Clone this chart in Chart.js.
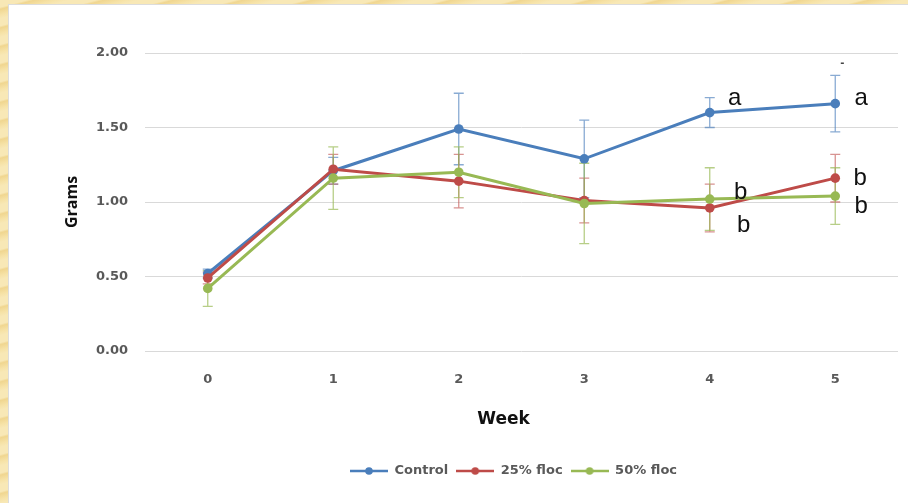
<!DOCTYPE html>
<html>
<head>
<meta charset="utf-8">
<script src="https://cdn.jsdelivr.net/npm/chart.js@4/dist/chart.umd.min.js"></script>
<style>
  html, body { margin: 0; padding: 0; }
  body {
    width: 908px; height: 503px; overflow: hidden; position: relative;
    background: repeating-linear-gradient(165deg, #f8e8b6 0px, #f8e8b6 7px, #f0d690 9px, #f6e2a6 14px, #f8e8b6 18px);
  }
  #panel {
    position: absolute; left: 8px; top: 4px; right: 0; bottom: 0;
    background: #ffffff;
    border-left: 1px solid #dcdcdc; border-top: 1px solid #dcdcdc;
  }
  #wrap { position: absolute; left: 0; top: 0; width: 908px; height: 503px; }
</style>
</head>
<body>
<div id="panel"></div>
<div id="wrap"><canvas id="chart" width="908" height="503"></canvas></div>
<script>
// Weekly mean weight (grams) with standard error, per treatment
const weeks = ['0', '1', '2', '3', '4', '5'];
const seriesNames = ['Control', '25% floc', '50% floc'];
const controlMean = [0.52, 1.21, 1.49, 1.29, 1.60, 1.66];
const controlErr  = [0.03, 0.09, 0.24, 0.26, 0.10, 0.19];
const floc25Mean  = [0.49, 1.22, 1.14, 1.01, 0.96, 1.16];
const floc25Err   = [0.04, 0.10, 0.18, 0.15, 0.16, 0.16];
const floc50Mean  = [0.42, 1.16, 1.20, 0.99, 1.02, 1.04];
const floc50Err   = [0.12, 0.21, 0.17, 0.27, 0.21, 0.19];
const yTicks = [0, 0.5, 1.0, 1.5, 2.0];
const xTitle = 'Week';
const yTitle = 'Grams';

// significance letters: week, anchor (grams, text baseline)
const sigLetters = ['a', 'a', 'b', 'b', 'b', 'b'];
const sigWeeks   = [4, 5, 5, 5, 4, 4];
const sigGrams   = [1.651, 1.651, 1.114, 0.926, 1.020, 0.799];

const lineColors = ['#4a7ebb', '#be4b48', '#98b954'];
const barColors  = ['rgba(74,126,187,0.65)', 'rgba(190,75,72,0.6)', 'rgba(152,185,84,0.7)'];
const errs = [controlErr, floc25Err, floc50Err];

function legendIcon(color) {
  const c = document.createElement('canvas');
  c.width = 38; c.height = 10;
  const g = c.getContext('2d');
  g.strokeStyle = color; g.lineWidth = 2.5;
  g.beginPath(); g.moveTo(0, 5); g.lineTo(38, 5); g.stroke();
  g.fillStyle = color;
  g.beginPath(); g.arc(19, 5, 3.8, 0, Math.PI * 2); g.fill();
  return c;
}
const icons = lineColors.map(legendIcon);

const errorBars = {
  id: 'errorBars',
  beforeDatasetsDraw(chart) {
    const {ctx, scales: {x, y}} = chart;
    ctx.save();
    ctx.lineWidth = 1.3;
    chart.data.datasets.forEach((ds, i) => {
      ctx.strokeStyle = barColors[i];
      ds.data.forEach((v, j) => {
        const e = errs[i][j];
        const px = x.getPixelForValue(j);
        const top = y.getPixelForValue(v + e);
        const bot = y.getPixelForValue(v - e);
        ctx.beginPath();
        ctx.moveTo(px, top); ctx.lineTo(px, bot);
        ctx.moveTo(px - 5, top); ctx.lineTo(px + 5, top);
        ctx.moveTo(px - 5, bot); ctx.lineTo(px + 5, bot);
        ctx.stroke();
      });
    });
    ctx.restore();
  }
};

const letters = {
  id: 'letters',
  afterDatasetsDraw(chart) {
    const {ctx, scales: {x, y}} = chart;
    const nudge = [25, 26, 25, 26, 31, 34];
    ctx.save();
    ctx.font = '24px "Liberation Sans", Arial, sans-serif';
    ctx.fillStyle = '#111111';
    ctx.textAlign = 'center';
    ctx.textBaseline = 'alphabetic';
    sigLetters.forEach((t, k) => {
      ctx.fillText(t, x.getPixelForValue(sigWeeks[k]) + nudge[k], y.getPixelForValue(sigGrams[k]));
    });
    // small stray dash above the week-5 error bar
    ctx.font = 'bold 10px "DejaVu Sans", sans-serif';
    ctx.fillStyle = '#444444';
    ctx.fillText('-', x.getPixelForValue(5) + 7, y.getPixelForValue(1.91));
    // x-axis title, sitting a little left of the plot centre
    const area = chart.chartArea;
    ctx.font = 'bold 17px "DejaVu Sans", sans-serif';
    ctx.fillStyle = '#111111';
    ctx.textBaseline = 'middle';
    ctx.fillText(xTitle, (area.left + area.right) / 2 - 18, area.bottom + 69);
    ctx.restore();
  },
  afterLayout(chart) {
    if (chart.legend) { chart.legend.left -= 8; chart.legend.right -= 8; }
  }
};

new Chart(document.getElementById('chart'), {
  type: 'line',
  data: {
    labels: weeks,
    datasets: [
      { label: seriesNames[0], data: controlMean, order: 2 },
      { label: seriesNames[1], data: floc25Mean, order: 1 },
      { label: seriesNames[2], data: floc50Mean, order: 0 }
    ].map((d, i) => Object.assign(d, {
      borderColor: lineColors[i], backgroundColor: lineColors[i],
      pointBackgroundColor: lineColors[i], pointBorderColor: lineColors[i],
      borderWidth: 3, pointRadius: 4.8, pointBorderWidth: 0, tension: 0, fill: false
    }))
  },
  options: {
    responsive: false,
    animation: false,
    layout: { padding: { left: 59, top: 53, right: 10, bottom: 15.5 } },
    scales: {
      x: {
        offset: true,
        grid: { display: false },
        border: { display: false },
        ticks: { color: '#595959', padding: 13, font: { family: '"DejaVu Sans", sans-serif', size: 13, weight: 'bold' } },
        title: { display: false },
        afterFit(scale) { scale.height = 105.5; }
      },
      y: {
        min: 0, max: 2,
        afterBuildTicks(scale) { scale.ticks = yTicks.map(v => ({ value: v })); },
        grid: { color: '#d9d9d9', lineWidth: 1, drawTicks: false },
        border: { display: false },
        ticks: { color: '#595959', padding: 17, callback: v => Number(v).toFixed(2),
                 font: { family: '"DejaVu Sans", sans-serif', size: 13, weight: 'bold' } },
        title: { display: true, text: yTitle, color: '#111111', padding: { top: 4, bottom: 4 },
                 font: { family: '"Open Sans", sans-serif', size: 16, weight: 'bold' } },
        afterFit(scale) { scale.width = 86; }
      }
    },
    plugins: {
      tooltip: { enabled: false },
      legend: {
        position: 'bottom',
        fullSize: false,
        labels: {
          usePointStyle: true,
          pointStyleWidth: 38,
          padding: 8,
          color: '#595959',
          font: { family: '"DejaVu Sans", sans-serif', size: 13, weight: 'bold' },
          generateLabels(chart) {
            return chart.data.datasets.map((ds, i) => ({
              text: ds.label, datasetIndex: i, pointStyle: icons[i],
              fillStyle: lineColors[i], strokeStyle: lineColors[i], lineWidth: 0,
              fontColor: '#595959', hidden: false
            }));
          }
        }
      }
    }
  },
  plugins: [errorBars, letters]
});
</script>
</body>
</html>
